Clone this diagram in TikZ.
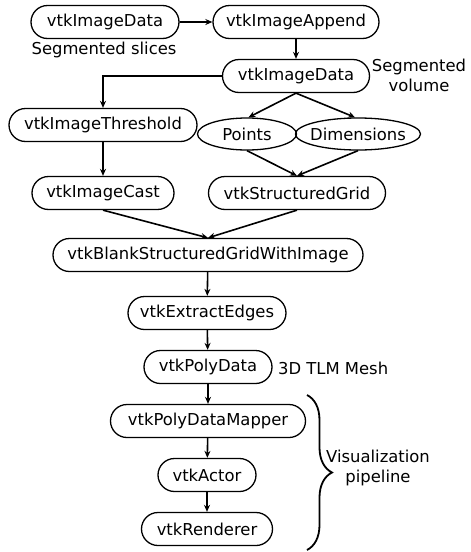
\documentclass[tikz,border=0pt]{standalone}
\usepackage{fontspec}
\setmainfont{DejaVu Sans}
\usetikzlibrary{arrows.meta,shapes.misc,shapes.geometric,decorations.pathreplacing}
\begin{document}
\begin{tikzpicture}[x=1pt,y=-1pt,
  font=\fontsize{16.4}{20}\selectfont,
  pill/.style={draw,line width=1.3pt,rounded rectangle,inner sep=0pt,minimum height=33pt},
  ell/.style={draw,line width=1.3pt,ellipse,inner sep=0pt,minimum height=32pt},
  lbl/.style={inner sep=0pt,align=center},
  conn/.style={line width=1.6pt,-{Stealth[length=7pt,width=6pt]}}]
\useasboundingbox (0,0) rectangle (471,552);
\node[pill,minimum width=148pt] (n1) at (105,22) {vtkImageData};
\node[pill,minimum width=166pt] (n2) at (296,22) {vtkImageAppend};
\node[lbl] (slices) at (104,50) {Segmented slices};
\node[pill,minimum width=147pt] (n3) at (296,76) {vtkImageData};
\node[lbl] (segvol) at (419,75) {Segmented\\volume};
\node[pill,minimum width=188pt] (n4) at (103,125) {vtkImageThreshold};
\node[ell,minimum width=99pt] (pts) at (247,134) {\makebox[0pt]{Points}};
\node[ell,minimum width=125pt] (dim) at (358,134) {\makebox[0pt]{Dimensions}};
\node[pill,minimum width=142pt] (n7) at (103,193) {vtkImageCast};
\node[pill,minimum width=177pt] (n8) at (297,193) {vtkStructuredGrid};
\node[pill,minimum width=310pt] (n9) at (208,255) {vtkBlankStructuredGridWithImage};
\node[pill,minimum width=158pt] (n10) at (207,313) {vtkExtractEdges};
\node[pill,minimum width=128pt] (n11) at (208,367) {vtkPolyData};
\node[lbl,anchor=west] (mesh) at (278,368) {3D TLM Mesh};
\node[pill,minimum width=195pt] (n12) at (208,421) {vtkPolyDataMapper};
\node[pill,minimum width=98pt] (n13) at (207,475) {vtkActor};
\node[pill,minimum width=131pt] (n14) at (207,529) {vtkRenderer};
\node[lbl] (vis) at (378,468) {Visualization\\pipeline};
\coordinate (bt) at (307,395);
\coordinate (bb) at (307,550);
\draw[line width=1.8pt,decorate,decoration={brace,amplitude=25pt}] (bt) -- (bb);
\draw[conn] (n1) -- (n2);
\draw[conn] (n2) -- (n3);
\draw[conn] (n3.west) -| (n4.north);
\draw[conn] (n3.south) -- (pts.85);
\draw[conn] (n3.south) -- (dim.100);
\draw[conn] (n4) -- (n7);
\draw[conn] (pts.south) -- (n8.north);
\draw[conn] (dim.south) -- (n8.north);
\draw[conn] (n7.south) -- (n9.north);
\draw[conn] (n8.south) -- (n9.north);
\draw[conn] (n9) -- (n10);
\draw[conn] (n10) -- (n11);
\draw[conn] (n11) -- (n12);
\draw[conn] (n12) -- (n13);
\draw[conn] (n13) -- (n14);
\end{tikzpicture}
\end{document}
